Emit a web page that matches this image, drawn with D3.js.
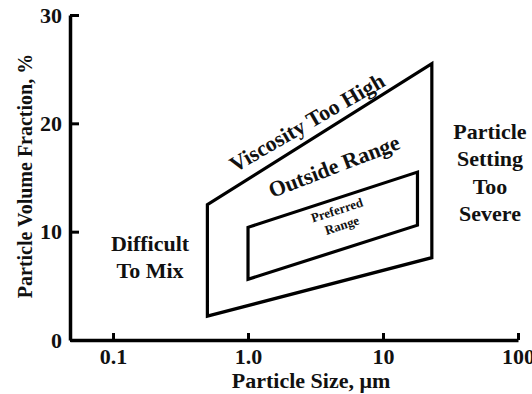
<!DOCTYPE html>
<html>
<head>
<meta charset="utf-8">
<script src="https://cdn.jsdelivr.net/npm/d3@7"></script>
<style>
  body { margin: 0; background: #fff; }
  svg { display: block; }
</style>
</head>
<body>
<script>
// tick values and labels
var xTicks = [0.1, 1, 10, 100];
var xTickLabels = ["0.1", "1.0", "10", "100"];
var yTicks = [0, 10, 20, 30];

// outer region (particle size in um, volume fraction in %)
var outerSize = [0.5, 0.5, 23, 23];
var outerFrac = [2.2, 12.5, 25.5, 7.6];

// preferred region
var innerSize = [1.0, 1.0, 18, 18];
var innerFrac = [5.6, 10.4, 15.5, 10.6];

// region labels: lines, anchor position in data units, rotation
var labelLines = [["Viscosity Too High"], ["Outside Range"], ["Preferred", "Range"], ["Difficult", "To Mix"], ["Particle", "Setting", "Too", "Severe"]];
var labelSize = [2.73, 4.33, 4.75, 0.188, 62];
var labelFrac = [20.1, 16.06, 11.3, 7.7, 15.5];
var labelAngle = [-30, -21, -18, 0, 0];
var labelFont = [22, 22, 13, 22, 22];
var labelLead = [24, 24, 16, 27, 27.5];

var FONT = "'Liberation Serif'";

window.onload = () => {
  var W = 532, H = 394;

  var svg = d3.select("body").append("svg")
    .attr("width", W)
    .attr("height", H)
    .style("font-family", FONT)
    .style("font-weight", "bold");

  var x = d3.scaleLog().domain([0.048, 100]).range([70, 518]);
  var y = d3.scaleLinear().domain([0, 30]).range([340, 15]);

  // x axis, ticks pointing up
  var gx = svg.append("g")
    .attr("transform", "translate(0," + y(0) + ")")
    .call(d3.axisBottom(x)
      .tickValues(xTicks)
      .tickFormat(function (d, i) { return xTickLabels[i]; })
      .tickSizeInner(-7)
      .tickSizeOuter(0)
      .tickPadding(8));

  // y axis, ticks pointing right
  var gy = svg.append("g")
    .attr("transform", "translate(" + x(0.048) + ",0)")
    .call(d3.axisLeft(y)
      .tickValues(yTicks)
      .tickSizeInner(-9)
      .tickSizeOuter(0)
      .tickPadding(8));

  [gx, gy].forEach(function (g) {
    g.attr("font-family", null).attr("font-size", null);
    g.select(".domain").attr("stroke", "#000").attr("stroke-width", 3.5);
    g.selectAll(".tick line").attr("stroke", "#000").attr("stroke-width", 3);
    g.selectAll(".tick text")
      .style("font-family", FONT)
      .style("font-weight", "bold")
      .style("font-size", "22px")
      .attr("fill", "#111");
  });
  gx.selectAll(".tick text").attr("dy", "0.71em");

  // axis titles
  svg.append("text")
    .attr("x", 311)
    .attr("y", 388)
    .attr("text-anchor", "middle")
    .attr("fill", "#111")
    .style("font-size", "22px")
    .text("Particle Size, \u03bcm");

  svg.append("text")
    .attr("transform", "translate(32,176) rotate(-90)")
    .attr("text-anchor", "middle")
    .attr("fill", "#111")
    .style("font-size", "20px")
    .text("Particle Volume Fraction, %");

  // regions
  var line = d3.line()
    .x(function (d) { return x(d[0]); })
    .y(function (d) { return y(d[1]); });

  var outer = d3.zip(outerSize, outerFrac);
  var inner = d3.zip(innerSize, innerFrac);

  svg.selectAll("path.region")
    .data([outer, inner])
    .enter().append("path")
    .attr("class", "region")
    .attr("d", function (d) { return line(d) + "Z"; })
    .attr("fill", "none")
    .attr("stroke", "#000")
    .attr("stroke-width", 3.2)
    .attr("stroke-linejoin", "miter");

  // labels
  labelLines.forEach(function (lines, i) {
    var g = svg.append("g")
      .attr("transform", "translate(" + x(labelSize[i]) + "," + y(labelFrac[i]) + ") rotate(" + labelAngle[i] + ")");
    var t = g.append("text")
      .attr("text-anchor", "middle")
      .attr("fill", "#111")
      .style("font-size", labelFont[i] + "px");
    lines.forEach(function (s, j) {
      t.append("tspan")
        .attr("x", 0)
        .attr("y", (j - (lines.length - 1) / 2) * labelLead[i])
        .attr("dy", "0.35em")
        .text(s);
    });
  });
};
</script>
</body>
</html>
